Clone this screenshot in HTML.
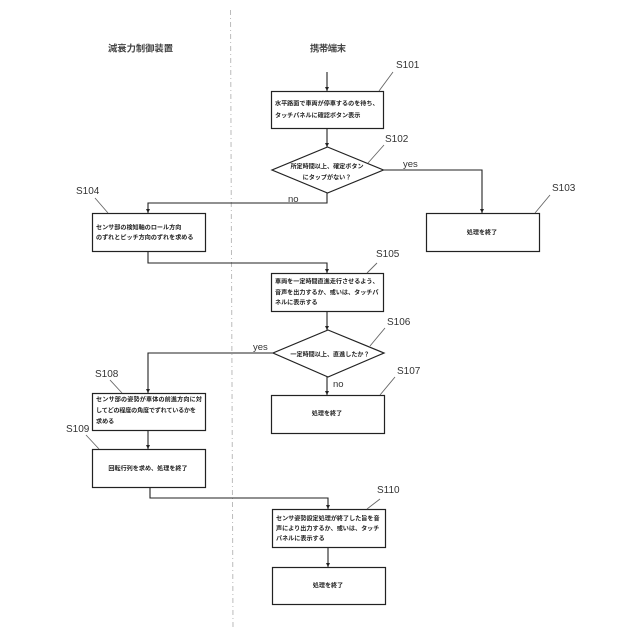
<!DOCTYPE html>
<html lang="ja">
<head>
<meta charset="utf-8">
<title>Flowchart</title>
<style>
html,body{margin:0;padding:0;background:#fff;width:640px;height:640px;overflow:hidden}
svg{display:block}
.b{fill:#fff;stroke:#222;stroke-width:1.2}
.l{fill:none;stroke:#222;stroke-width:1.1}
.t{fill:none;stroke:#666;stroke-width:.9}
text{font-family:"Liberation Sans","Noto Sans CJK JP",sans-serif;fill:#222}
.j{font-size:6.1px;font-weight:700;fill:#222}
.s{font-size:10px;fill:#333}
.h{font-size:9.3px;font-weight:700;fill:#444}
.y{font-size:9.5px;fill:#333}
</style>
</head>
<body>
<svg width="640" height="640" viewBox="0 0 640 640" xmlns="http://www.w3.org/2000/svg">
<defs>
<marker id="a" markerWidth="5" markerHeight="5" refX="4" refY="2" orient="auto" markerUnits="userSpaceOnUse"><path d="M0 0L4 2L0 4Z" fill="#222"/></marker>
</defs>
<path d="M230.5 10L233 630" fill="none" stroke="#bbb" stroke-width="1" stroke-dasharray="5 3 1 3"/>

<path class="l" marker-end="url(#a)" d="M327 72V91"/>
<path class="l" marker-end="url(#a)" d="M327 128V147"/>
<path class="l" marker-end="url(#a)" d="M327 193V203H148V213"/>
<path class="l" marker-end="url(#a)" d="M383 170H482V213"/>
<path class="l" marker-end="url(#a)" d="M148 251V263H327V273"/>
<path class="l" marker-end="url(#a)" d="M327 311V330"/>
<path class="l" marker-end="url(#a)" d="M327 377V395"/>
<path class="l" marker-end="url(#a)" d="M273 353H148V393"/>
<path class="l" marker-end="url(#a)" d="M148 430V449"/>
<path class="l" marker-end="url(#a)" d="M150 487V498H328V509"/>
<path class="l" marker-end="url(#a)" d="M328 547V567"/>

<rect class="b" x="271.500" y="91.500" width="112" height="37"/>
<polygon class="b" points="327.500,147 383.500,170 327.500,193 272,170"/>
<rect class="b" x="92.500" y="213.500" width="113" height="38"/>
<rect class="b" x="426.500" y="213.500" width="113" height="38"/>
<rect class="b" x="271.500" y="273.500" width="112" height="38"/>
<polygon class="b" points="328,330 384,353 328,377 273,353"/>
<rect class="b" x="271.500" y="395.500" width="113" height="38"/>
<rect class="b" x="92.500" y="393.500" width="113" height="37"/>
<rect class="b" x="92.500" y="449.500" width="113" height="38"/>
<rect class="b" x="272.500" y="509.500" width="113" height="38"/>
<rect class="b" x="272.500" y="567.500" width="113" height="37"/>

<path class="t" d="M379 91L393 72M368 163L384 145M95 198L108 213M535 213L550 195M367 273L377 263M370 346L385 328M380 395L395 377M110 380L122 393M86 435L99 449M367 509L380 499"/>

<text class="h" x="108" y="51.500" textLength="65">減衰力制御装置</text>
<text class="h" x="310" y="51.500" textLength="36">携帯端末</text>

<text class="s" x="396" y="68">S101</text>
<text class="s" x="385" y="142">S102</text>
<text class="s" x="552" y="191">S103</text>
<text class="s" x="76" y="194">S104</text>
<text class="s" x="376" y="257">S105</text>
<text class="s" x="387" y="325">S106</text>
<text class="s" x="397" y="374">S107</text>
<text class="s" x="95" y="377">S108</text>
<text class="s" x="66" y="432">S109</text>
<text class="s" x="377" y="493">S110</text>

<text class="y" x="403" y="167">yes</text>
<text class="y" x="288" y="202">no</text>
<text class="y" x="253" y="350">yes</text>
<text class="y" x="333" y="387">no</text>

<text class="j" x="275" y="105.500">水平路面で車両が停車するのを待ち、</text>
<text class="j" x="275" y="117.500">タッチパネルに確認ボタン表示</text>
<text class="j" x="327" y="168.500" text-anchor="middle">所定時間以上、確定ボタン</text>
<text class="j" x="327" y="179.500" text-anchor="middle">にタップがない？</text>
<text class="j" x="96" y="229.500">センサ部の検知軸のロール方向</text>
<text class="j" x="96" y="239.500">のずれとピッチ方向のずれを求める</text>
<text class="j" x="482" y="234.500" text-anchor="middle">処理を終了</text>
<text class="j" x="275" y="283.500">車両を一定時間直進走行させるよう、</text>
<text class="j" x="275" y="294.500">音声を出力するか、或いは、タッチパ</text>
<text class="j" x="275" y="304.500">ネルに表示する</text>
<text class="j" x="330" y="356.500" text-anchor="middle">一定時間以上、直進したか？</text>
<text class="j" x="327" y="415.500" text-anchor="middle">処理を終了</text>
<text class="j" x="96" y="401.500" textLength="106">センサ部の姿勢が車体の前進方向に対</text>
<text class="j" x="96" y="412.500" textLength="100">してどの程度の角度でずれているかを</text>
<text class="j" x="96" y="423.500">求める</text>
<text class="j" x="148" y="470.500" text-anchor="middle">回転行列を求め、処理を終了</text>
<text class="j" x="276" y="520.500">センサ姿勢設定処理が終了した旨を音</text>
<text class="j" x="276" y="530.500">声により出力するか、或いは、タッチ</text>
<text class="j" x="276" y="540.500">パネルに表示する</text>
<text class="j" x="328" y="587.500" text-anchor="middle">処理を終了</text>
</svg>
</body>
</html>
